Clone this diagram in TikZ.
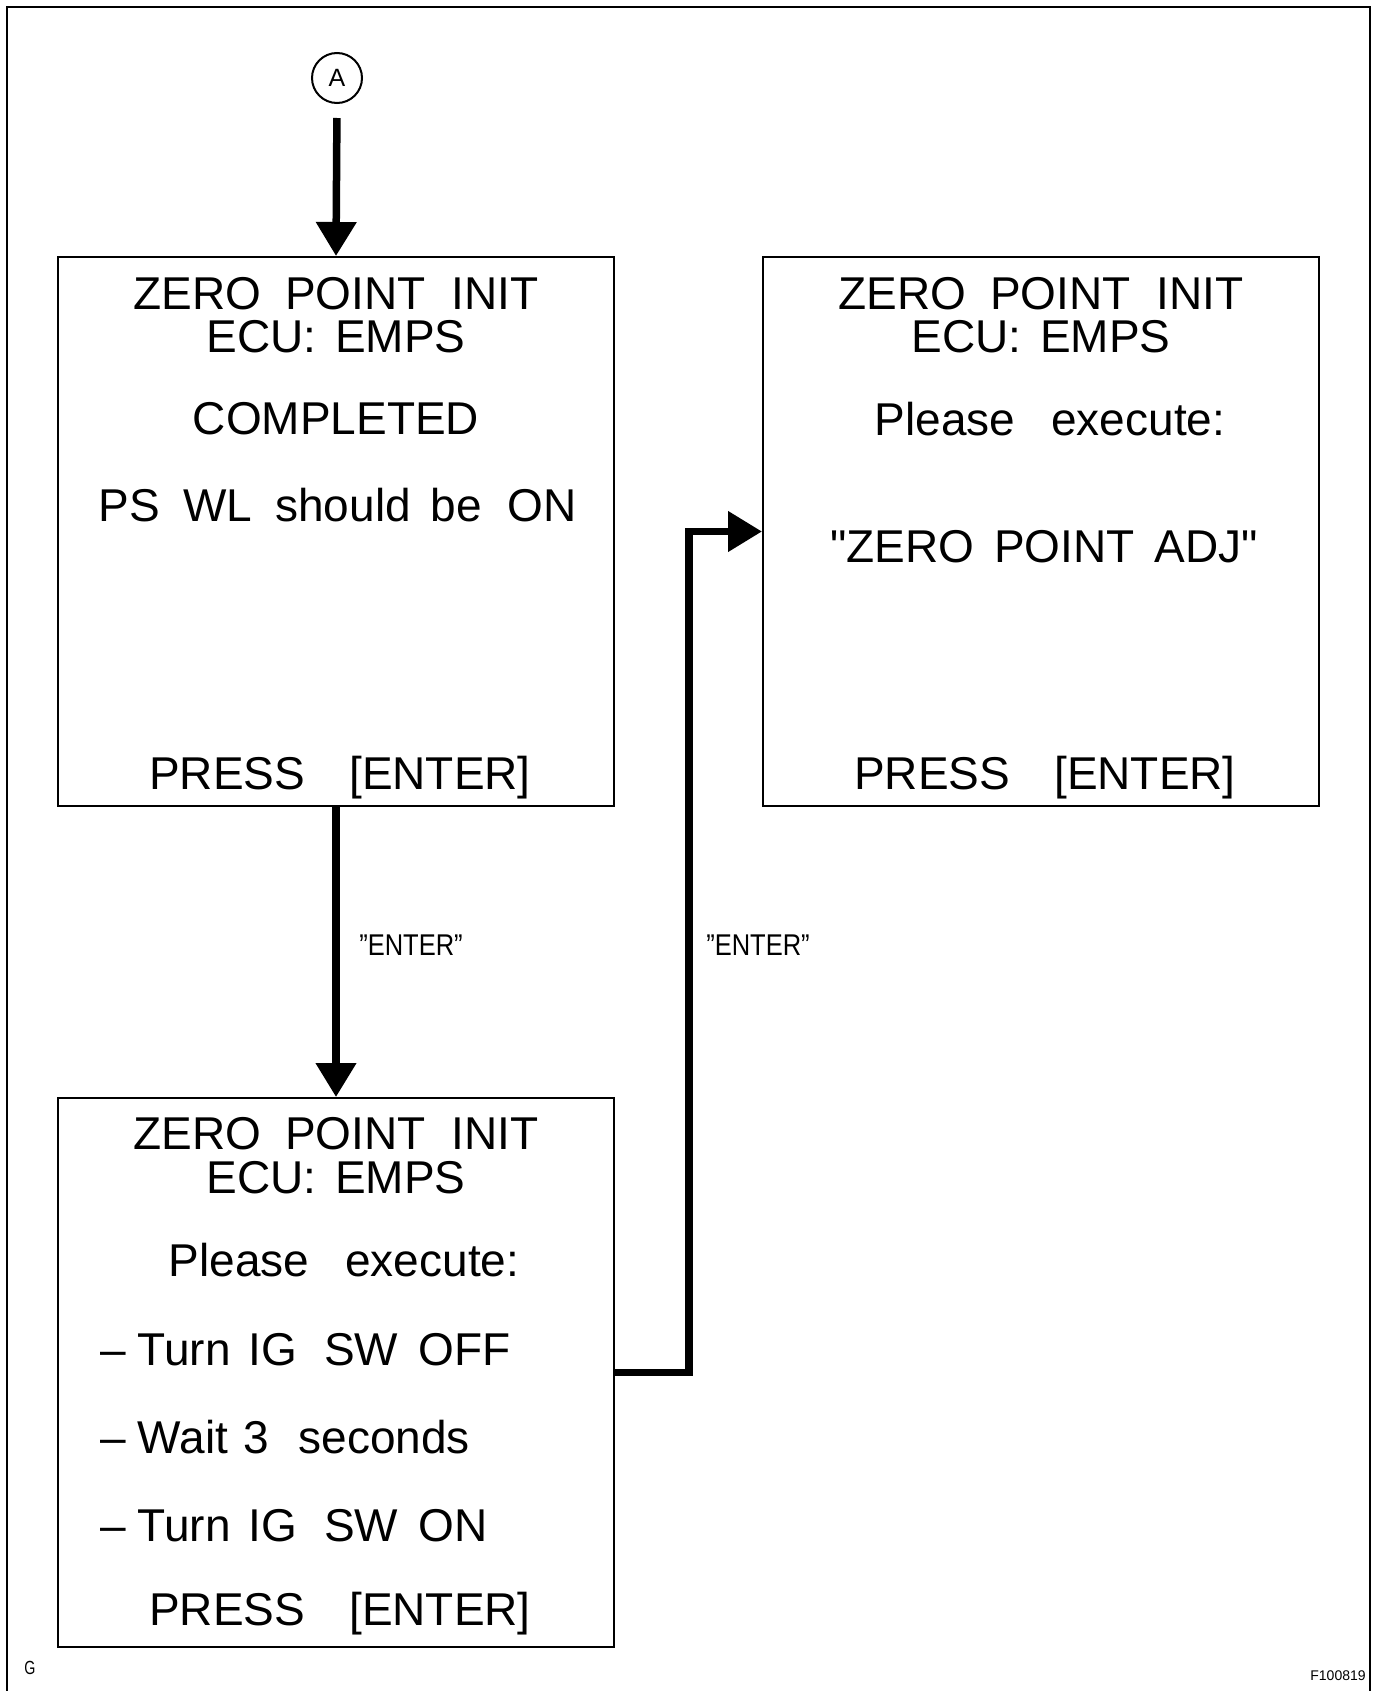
\documentclass[tikz,border=0pt]{standalone}
\usepackage{fontspec}
\setmainfont{Liberation Sans}
\newfontfamily\rawsans{Liberation Sans}
\usepackage{graphicx}
\usetikzlibrary{arrows.meta}
\newcommand{\sq}{{\rawsans"}}
\begin{document}
\begin{tikzpicture}[x=1pt,y=-1pt,
  screen/.style={draw, line width=2pt, minimum width=556pt, minimum height=549pt, inner sep=0pt},
  txt/.style={inner sep=0pt, anchor=base, font=\fontsize{46}{50}\selectfont},
  txtl/.style={txt, anchor=base west},
  lbl/.style={inner sep=0pt, font=\fontsize{30}{30}\selectfont},
  flow/.style={line width=7.5pt, -{Triangle[length=34pt,width=39pt]}},
  ]
\useasboundingbox (0,0) rectangle (1377,1691);
\draw[line width=2pt] (7,1700) -- (7,7) -- (1370,7) -- (1370,1700);

% screens
\node[screen] (box1) at (336,531.5) {};
\node[screen] (box2) at (1041,531.5) {};
\node[screen] (box3) at (336,1372.5) {};

% start connector
\node[draw, circle, minimum size=50pt, line width=2pt, inner sep=0pt, font=\fontsize{25}{25}\selectfont] (A) at (337,78) {A};

% box 1 text
\node[txt] (b1l1) at (336,309) {ZERO\hspace{24pt}POINT\hspace{26pt}INIT};
\node[txt] (b1l2) at (336,352) {ECU:\hspace{19pt}EMPS};
\node[txt] (b1l3) at (336,434) {COMPLETED};
\node[txt] (b1l4) at (338,521) {PS\hspace{23pt}WL\hspace{23pt}should\hspace{20pt}be\hspace{26pt}ON};
\node[txt] (b1l5) at (340,789) {PRESS\hspace{44pt}[ENTER]};

% box 2 text
\node[txt] (b2l1) at (1041,309) {ZERO\hspace{24pt}POINT\hspace{26pt}INIT};
\node[txt] (b2l2) at (1041,352) {ECU:\hspace{19pt}EMPS};
\node[txt] (b2l3) at (1050,435) {Please\hspace{36pt}execute:};
\node[txt] (b2l4) at (1044,562) {\sq ZERO\hspace{20pt}POINT\hspace{20pt}ADJ\sq};
\node[txt] (b2l5) at (1045,789) {PRESS\hspace{44pt}[ENTER]};

% box 3 text
\node[txt] (b3l1) at (336,1149) {ZERO\hspace{24pt}POINT\hspace{26pt}INIT};
\node[txt] (b3l2) at (336,1193) {ECU:\hspace{19pt}EMPS};
\node[txt] (b3l3) at (344,1276) {Please\hspace{36pt}execute:};
\node[txtl] (b3l4) at (100,1365) {–\hspace{12pt}Turn\hspace{18pt}IG\hspace{27pt}SW\hspace{20pt}OFF};
\node[txtl] (b3l5) at (100,1453) {–\hspace{12pt}Wait\hspace{15pt}3\hspace{30pt}seconds};
\node[txtl] (b3l6) at (100,1541) {–\hspace{12pt}Turn\hspace{18pt}IG\hspace{27pt}SW\hspace{20pt}ON};
\node[txt] (b3l7) at (340,1625) {PRESS\hspace{44pt}[ENTER]};

% connectors
\coordinate (jog) at (689,950);
\draw[flow, shorten <=14pt] (A.south) -- (box1.north);
\draw[flow] (box1.south) -- (box3.north);
\draw[flow, line join=miter] (box3.east) -- (box3.east -| jog) -- (jog |- box2.west) -- (box2.west);

% labels
\node[lbl] (e1) at (411,945) {\scalebox{0.85}[1]{”ENTER”}};
\node[lbl] (e2) at (758,945) {\scalebox{0.85}[1]{”ENTER”}};

% corner marks
\node[inner sep=0pt, font=\fontsize{19}{19}\selectfont] (g) at (30,1668) {\scalebox{0.75}[1]{G}};
\node[inner sep=0pt, font=\fontsize{14}{14}\selectfont] (fig) at (1338,1676) {F100819};
\end{tikzpicture}
\end{document}
